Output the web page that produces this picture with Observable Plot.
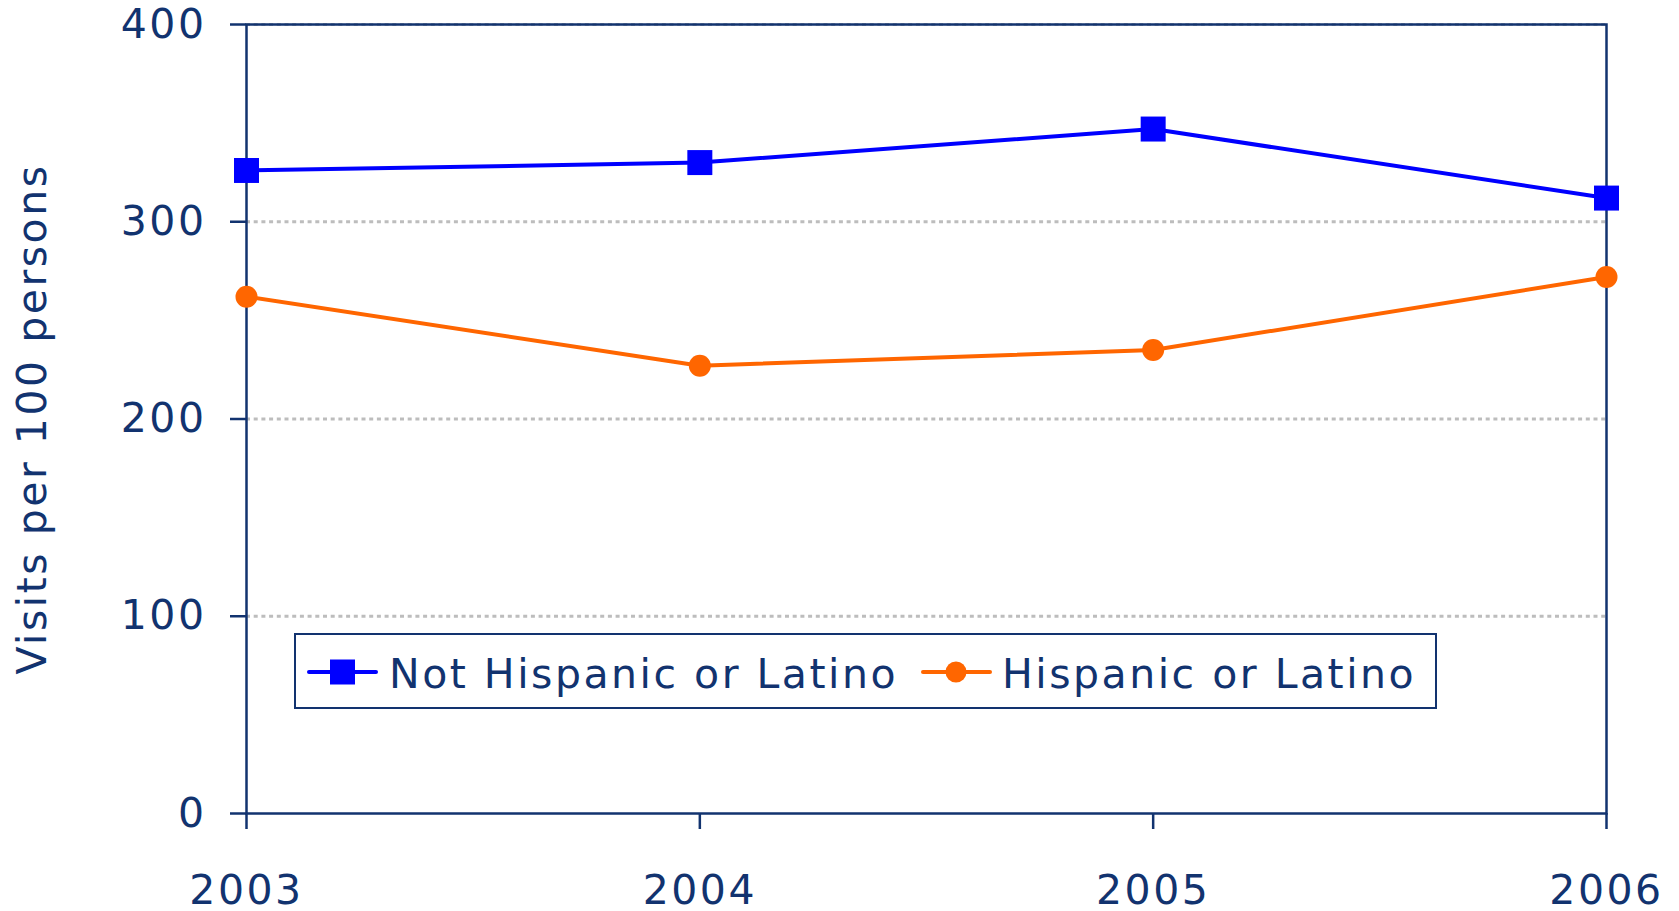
<!DOCTYPE html>
<html>
<head>
<meta charset="utf-8">
<script src="https://cdn.jsdelivr.net/npm/d3@7"></script>
<script src="https://cdn.jsdelivr.net/npm/@observablehq/plot@0.6"></script>
<style>
  html, body { margin: 0; padding: 0; background: #fff; }
  #wrap { position: relative; width: 1679px; height: 911px; }
  #wrap svg text { letter-spacing: 2.5px; }
  #legend { position: absolute; left: 294px; top: 633px; width: 1143px; height: 76px;
            box-sizing: border-box; border: 2px solid #12336f; background: #fff; }
  #legend svg { display: block; }
  #legend text { font-family: "DejaVu Sans", sans-serif; font-size: 41px; fill: #12336f; letter-spacing: 2.8px; }
</style>
</head>
<body>
<div id="wrap"></div>
<script>
const years = [2003, 2004, 2005, 2006];
const notHispanic = [326, 330, 347, 312];
const hispanic = [262, 227, 235, 272];
const seriesNames = ["Not Hispanic or Latino", "Hispanic or Latino"];
const yTicks = [0, 100, 200, 300, 400];
const gridValues = [100, 200, 300, 400];
const yTitle = "Visits per 100 persons";

const navy = "#12336f";
const blue = "#0000ff";
const orange = "#ff6600";

const rowsA = years.map((y, i) => ({year: y, value: notHispanic[i]}));
const rowsB = years.map((y, i) => ({year: y, value: hispanic[i]}));

const chart = Plot.plot({
  width: 1679,
  height: 911,
  marginLeft: 246,
  marginRight: 73,
  marginTop: 24,
  marginBottom: 98,
  style: {fontFamily: "DejaVu Sans, sans-serif", fontSize: "41px", color: navy, background: "#fff", overflow: "visible"},
  x: {type: "linear", domain: [2003, 2006]},
  y: {domain: [0, 400]},
  marks: [
    Plot.ruleY(gridValues, {stroke: "#bdbdbd", strokeWidth: 3, strokeDasharray: "4,3.7"}),
    Plot.frame({stroke: navy, strokeWidth: 2.5}),
    Plot.axisY({ticks: yTicks, tickSize: 16, tickPadding: 24, tickFormat: d => String(d), label: null, fontSize: 41, strokeWidth: 2.5}),
    Plot.axisX({ticks: years, tickSize: 16, tickPadding: 45, tickFormat: d => String(d), label: null, fontSize: 41, strokeWidth: 2.5}),
    Plot.text([yTitle], {frameAnchor: "left", textAnchor: "middle", rotate: -90, dx: -214, fontSize: 41, fill: navy}),
    Plot.line(rowsA, {x: "year", y: "value", stroke: blue, strokeWidth: 4}),
    Plot.line(rowsB, {x: "year", y: "value", stroke: orange, strokeWidth: 4}),
    Plot.dot(rowsA, {x: "year", y: "value", symbol: "square", r: 14.1, fill: blue, stroke: "none"}),
    Plot.dot(rowsB, {x: "year", y: "value", r: 11, fill: orange, stroke: "none"})
  ]
});
const wrap = document.getElementById("wrap");
wrap.appendChild(chart);

// Legend (HTML box with small inline svg samples)
const legend = document.createElement("div");
legend.id = "legend";
legend.innerHTML = `
<svg width="1139" height="72" xmlns="http://www.w3.org/2000/svg">
  <line x1="13" x2="80" y1="37" y2="37" stroke="${blue}" stroke-width="4" stroke-linecap="round"/>
  <rect x="34" y="24.5" width="25" height="25" fill="${blue}"/>
  <text x="93" y="53">${seriesNames[0]}</text>
  <line x1="627" x2="694" y1="37" y2="37" stroke="${orange}" stroke-width="4" stroke-linecap="round"/>
  <circle cx="660" cy="37" r="10.5" fill="${orange}"/>
  <text x="706" y="53">${seriesNames[1]}</text>
</svg>`;
wrap.appendChild(legend);
</script>
</body>
</html>
